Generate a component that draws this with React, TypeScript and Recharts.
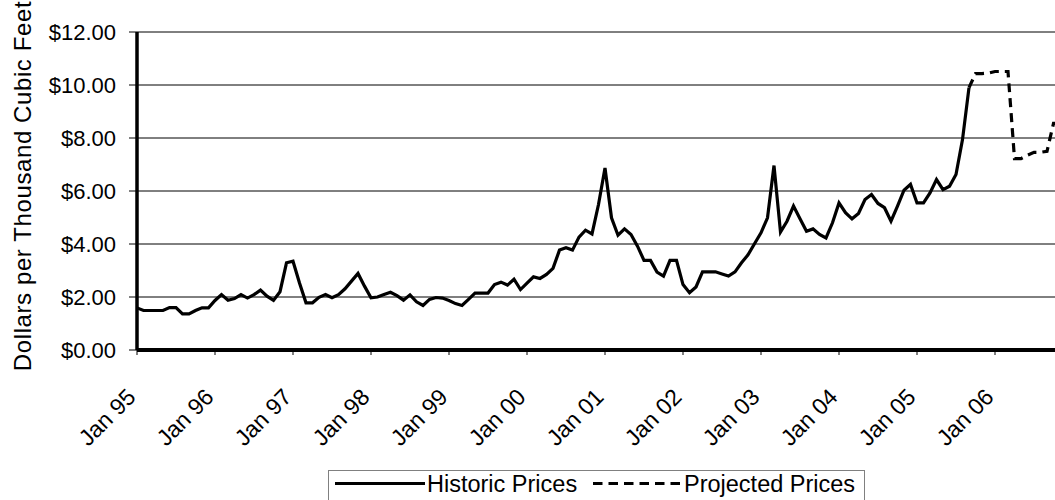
import { CartesianGrid, Line, LineChart, XAxis, YAxis } from "recharts";

const monthNames = ["Jan", "Feb", "Mar", "Apr", "May", "Jun", "Jul", "Aug", "Sep", "Oct", "Nov", "Dec"];
const years = ["95", "96", "97", "98", "99", "00", "01", "02", "03", "04", "05", "06"];

// historic monthly prices, $ per thousand cubic feet
const prices1995 = [1.59, 1.49, 1.49, 1.49, 1.49, 1.6, 1.6, 1.36, 1.36, 1.49, 1.59, 1.59];
const prices1996 = [1.87, 2.09, 1.88, 1.94, 2.09, 1.96, 2.09, 2.26, 2.03, 1.87, 2.2, 3.29];
const prices1997 = [3.35, 2.53, 1.78, 1.78, 1.99, 2.09, 1.97, 2.09, 2.31, 2.6, 2.89, 2.41];
const prices1998 = [1.97, 2.0, 2.09, 2.18, 2.05, 1.88, 2.08, 1.82, 1.68, 1.91, 1.98, 1.96];
const prices1999 = [1.87, 1.75, 1.68, 1.91, 2.15, 2.15, 2.15, 2.47, 2.56, 2.45, 2.67, 2.28];
const prices2000 = [2.52, 2.76, 2.7, 2.85, 3.08, 3.77, 3.86, 3.77, 4.26, 4.52, 4.38, 5.49];
const prices2001 = [6.87, 4.99, 4.33, 4.57, 4.36, 3.92, 3.38, 3.38, 2.94, 2.79, 3.38, 3.38];
const prices2002 = [2.47, 2.16, 2.38, 2.95, 2.95, 2.95, 2.87, 2.79, 2.95, 3.29, 3.59, 4.01];
const prices2003 = [4.42, 4.99, 6.96, 4.45, 4.86, 5.43, 4.95, 4.48, 4.57, 4.36, 4.23, 4.8];
const prices2004 = [5.55, 5.18, 4.95, 5.15, 5.68, 5.87, 5.53, 5.37, 4.86, 5.43, 6.03, 6.25];
const prices2005 = [5.55, 5.55, 5.93, 6.43, 6.05, 6.18, 6.62, 7.94, 9.9]; // Jan-Sep

// projection, Sep 05 - Nov 06
const projected = [9.9, 10.43, 10.43, 10.45, 10.51, 10.51, 10.51, 7.22, 7.22, 7.35, 7.46, 7.46, 7.5, 8.55, 8.55];

const yTicks = [0, 2, 4, 6, 8, 10, 12];

const historic = [
  ...prices1995, ...prices1996, ...prices1997, ...prices1998, ...prices1999, ...prices2000,
  ...prices2001, ...prices2002, ...prices2003, ...prices2004, ...prices2005,
];
const projStart = historic.length - 1;
const months = years.flatMap((y) => monthNames.map((m) => `${m} ${y}`)).slice(0, projStart + projected.length);

const data = months.map((month, i) => ({
  month,
  historic: i < historic.length ? historic[i] : null,
  projected: i >= projStart ? projected[i - projStart] : null,
}));

const FONT = "'Liberation Sans', Arial, sans-serif";

function renderXTick(props: any) {
  const { x, y, payload } = props;
  const ty = y + 41.5;
  return (
    <text
      x={x}
      y={ty}
      transform={`rotate(-45, ${x}, ${ty})`}
      textAnchor="end"
      fontSize={23}
      fill="#000"
      fontFamily={FONT}
    >
      {payload.value}
    </text>
  );
}

function renderYTitle(props: any) {
  const { viewBox } = props;
  const cy = viewBox.y + viewBox.height / 2 - 5;
  return (
    <text
      x={31}
      y={cy}
      transform={`rotate(-90, 31, ${cy})`}
      textAnchor="middle"
      fontSize={24}
      letterSpacing={0.6}
      fill="#000"
      fontFamily={FONT}
    >
      Dollars per Thousand Cubic Feet
    </text>
  );
}

function PriceLegend() {
  return (
    <svg
      width={540}
      height={40}
      style={{ position: "absolute", left: 328, top: 470, fontFamily: FONT }}
    >
      <rect x={0.5} y={0.5} width={536} height={45} fill="#fff" stroke="#808080" />
      <line x1={7} y1={13.5} x2={97} y2={13.5} stroke="#000" strokeWidth={3} />
      <text x={99} y={21.5} fontSize={23.5} fill="#000">
        Historic Prices
      </text>
      <line x1={265} y1={13.5} x2={352} y2={13.5} stroke="#000" strokeWidth={3} strokeDasharray="9.5 6" />
      <text x={356} y={21.5} fontSize={23.5} fill="#000">
        Projected Prices
      </text>
    </svg>
  );
}

export default function App() {
  return (
    <div
      style={{
        position: "absolute",
        left: 0,
        top: 0,
        width: 1055,
        height: 500,
        overflow: "hidden",
        background: "#fff",
        fontFamily: FONT,
      }}
    >
      <LineChart width={1064} height={500} data={data} margin={{ top: 32, right: 4, left: 0, bottom: 90 }}>
        <CartesianGrid vertical={false} stroke="#000" strokeWidth={1} />
        <XAxis
          dataKey="month"
          interval={11}
          height={60}
          tick={renderXTick}
          tickSize={5}
          tickMargin={2}
          axisLine={{ stroke: "#000", strokeWidth: 4 }}
          tickLine={{ stroke: "#000" }}
        />
        <YAxis
          width={137}
          domain={[0, 12]}
          ticks={yTicks}
          tickFormatter={(v: number) => `$${v.toFixed(2)}`}
          tick={{ fontSize: 22, fill: "#000", fontFamily: FONT }}
          tickSize={8}
          tickMargin={13}
          axisLine={{ stroke: "#000", strokeWidth: 3.5 }}
          tickLine={{ stroke: "#000" }}
          label={renderYTitle}
        />
        <Line
          type="linear"
          dataKey="historic"
          stroke="#000"
          strokeWidth={3.2}
          dot={false}
          activeDot={false}
          isAnimationActive={false}
        />
        <Line
          type="linear"
          dataKey="projected"
          stroke="#000"
          strokeWidth={3.2}
          strokeDasharray="9 6"
          dot={false}
          activeDot={false}
          isAnimationActive={false}
        />
      </LineChart>
      <PriceLegend />
    </div>
  );
}
